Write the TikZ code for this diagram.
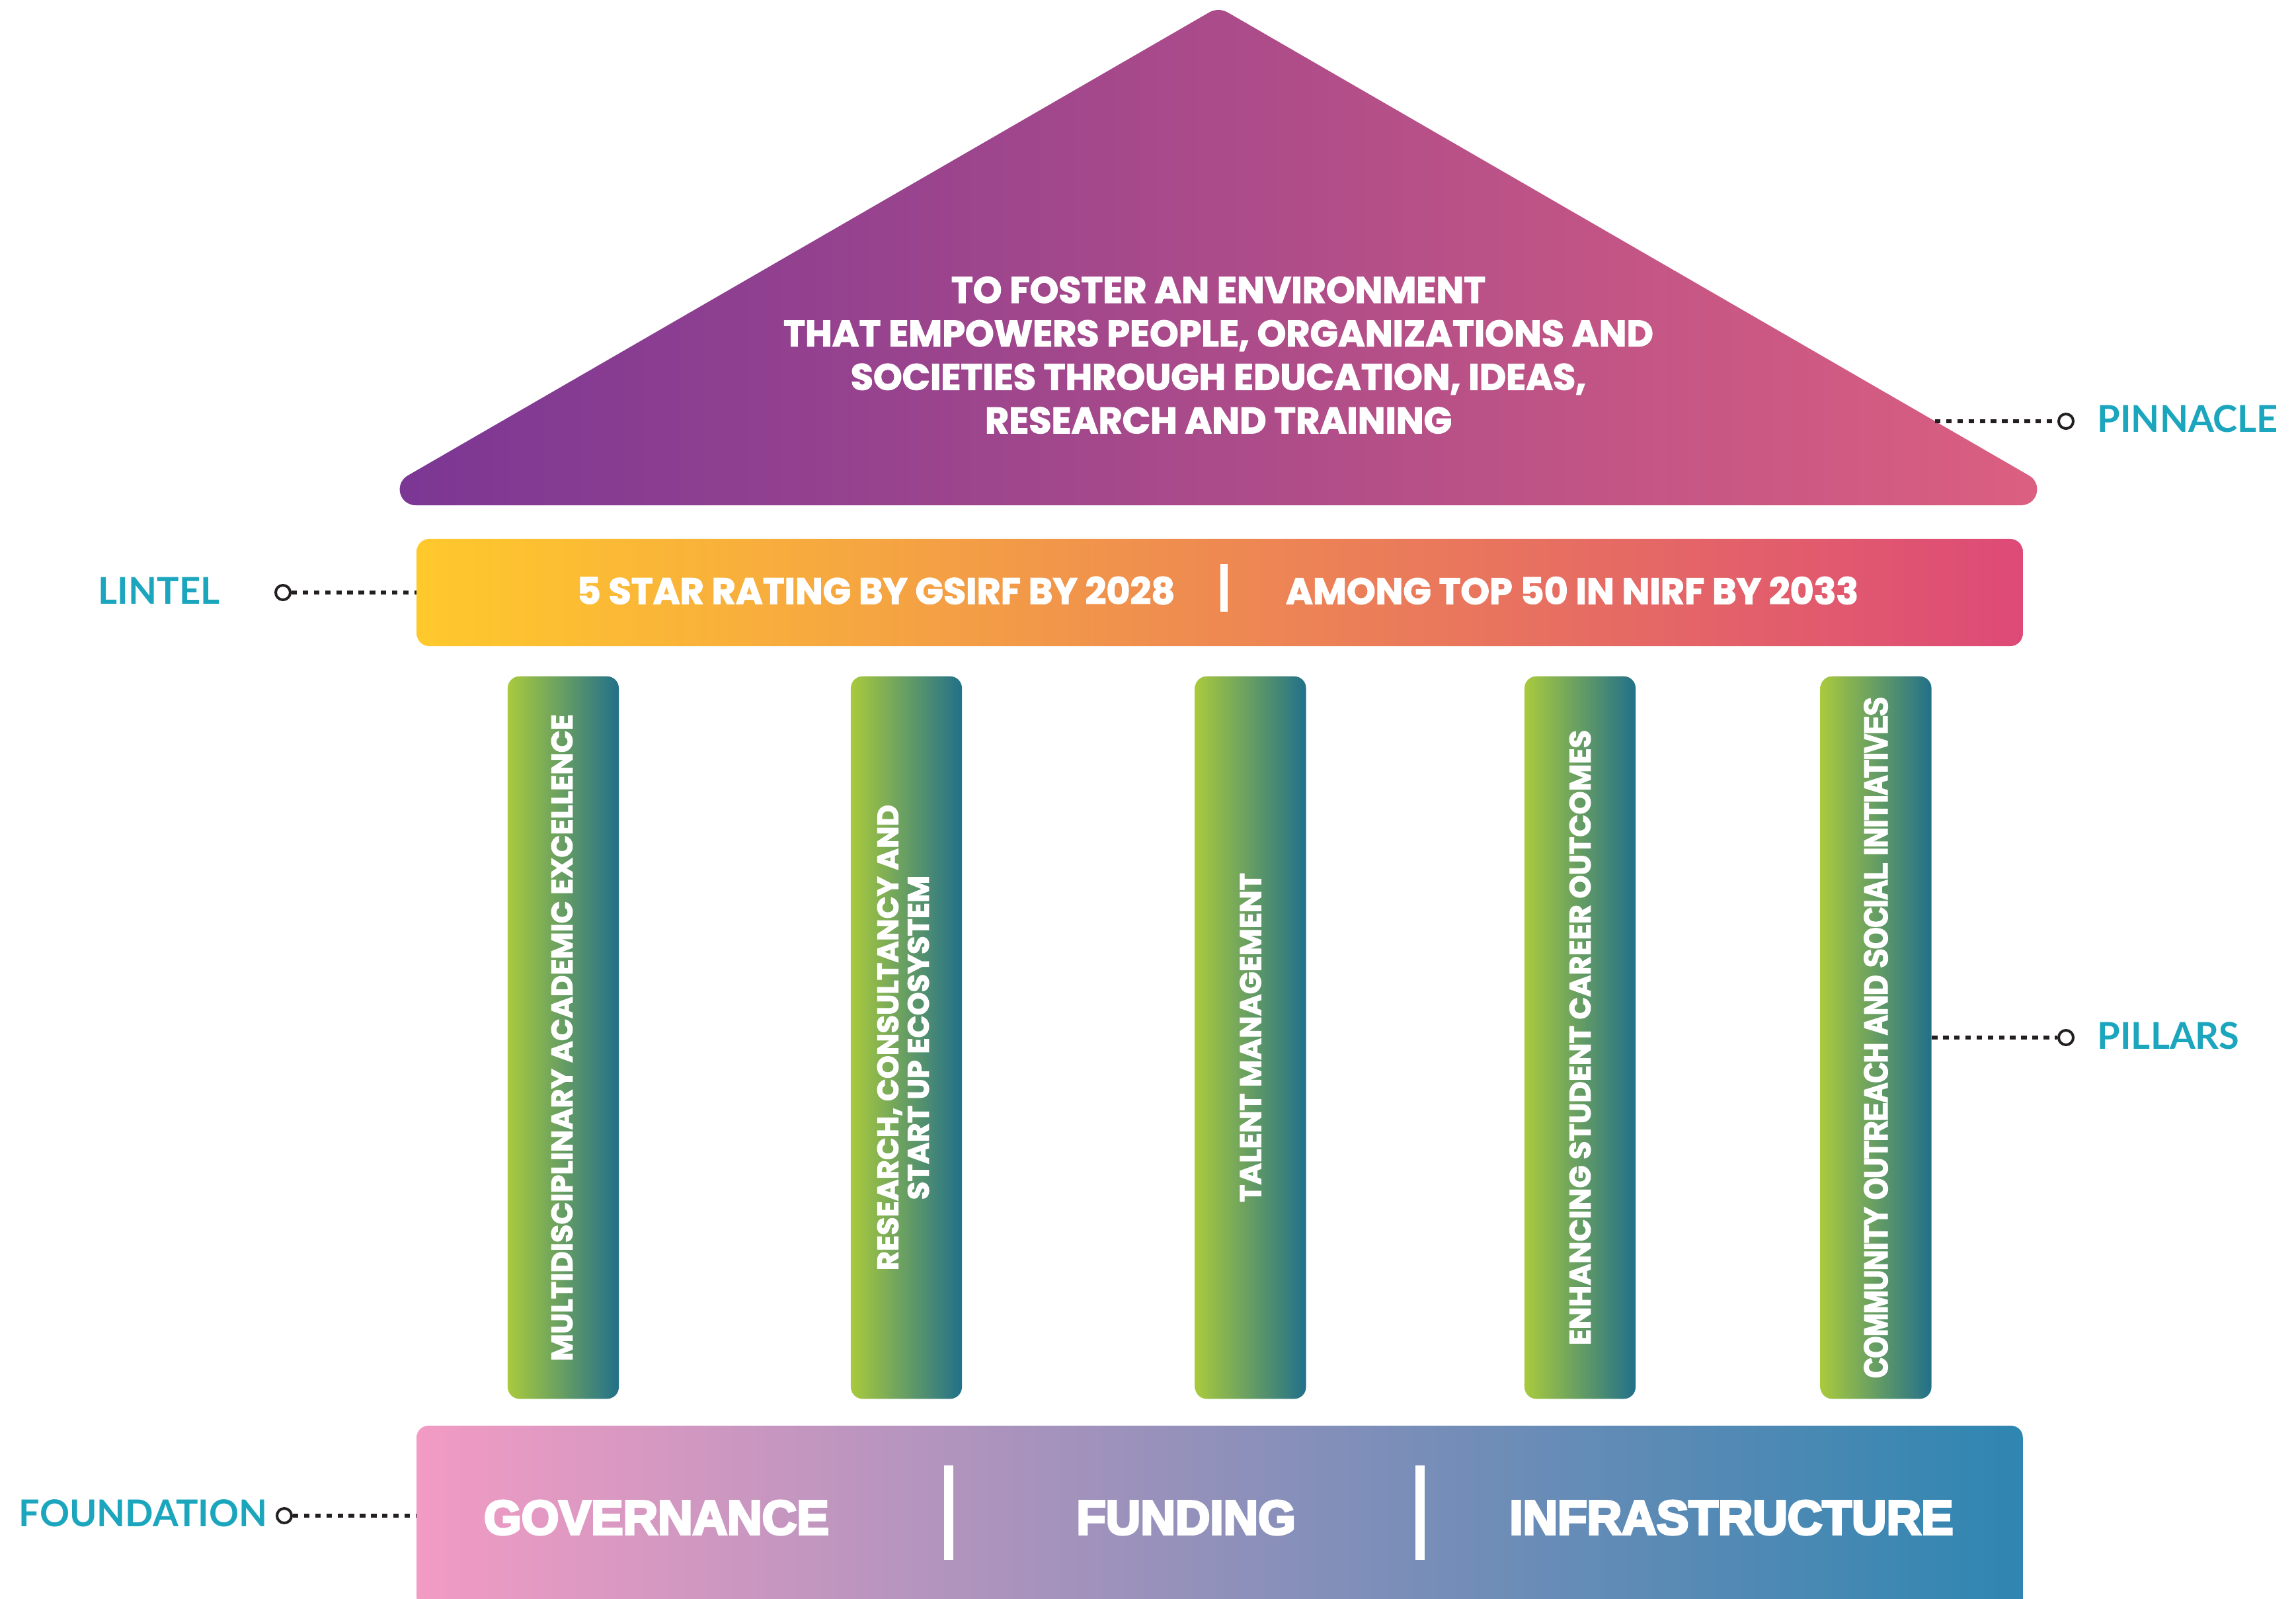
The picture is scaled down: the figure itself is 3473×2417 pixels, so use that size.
\documentclass[tikz,border=0pt]{standalone}
\usepackage{fontspec}
\newfontfamily\popheavy{Poppins}[UprightFont={* Bold}, FakeBold=2.2]
\newfontfamily\latofont{Lato}
\newfontfamily\arialheavy{Liberation Sans}[UprightFont={* Bold}, FakeBold=5]
\newfontfamily\narrowheavy{Liberation Sans}[UprightFont={* Bold}, FakeStretch=0.85, FakeBold=4.5]

\definecolor{roofL}{HTML}{7B3794}
\definecolor{roofM}{HTML}{AA4A8A}
\definecolor{roofR}{HTML}{DB5F80}
\definecolor{lintL}{HTML}{FFC92C}
\definecolor{lintM}{HTML}{EC8E6B}
\definecolor{lintR}{HTML}{DD4A77}
\definecolor{pilL}{HTML}{A9CA3D}
\definecolor{pilM}{HTML}{66967A}
\definecolor{pilR}{HTML}{22708A}
\definecolor{fndL}{HTML}{F29BC4}
\definecolor{fndM}{HTML}{A693BB}
\definecolor{fndR}{HTML}{2E86B1}
\definecolor{tagteal}{HTML}{1BA6BE}
\definecolor{leaderdark}{HTML}{231F20}

\begin{document}
\begin{tikzpicture}[x=0.01cm, y=-0.01cm,
  roofshade/.style={left color=roofL, middle color=roofM, right color=roofR, draw=none},
  lintelbox/.style={rectangle, rounded corners=5.4pt, inner sep=0, draw=none,
    minimum width=24.28cm, minimum height=1.62cm,
    left color=lintL, middle color=lintM, right color=lintR},
  pillarbox/.style={rectangle, rounded corners=5.1pt, inner sep=0, draw=none,
    minimum width=1.68cm, minimum height=10.92cm,
    left color=pilL, middle color=pilM, right color=pilR},
  foundbox/.style={rectangle, rounded corners=5pt, inner sep=0, draw=none,
    minimum width=24.28cm, minimum height=2.84cm,
    left color=fndL, middle color=fndM, right color=fndR},
  headtext/.style={text=white, inner sep=0, align=center,
    font=\popheavy\fontsize{15.8}{18.7}\selectfont},
  pillartext/.style={text=white, inner sep=0, align=center, rotate=90,
    font=\popheavy\fontsize{12.7}{13.1}\selectfont},
  narrowtext/.style={text=white, inner sep=0, rotate=90,
    font=\narrowheavy\fontsize{14}{15}\selectfont},
  foundtext/.style={text=white, inner sep=0,
    font=\arialheavy\fontsize{20.7}{24}\selectfont},
  divider/.style={rectangle, fill=white, draw=none, inner sep=0},
  tag/.style={text=tagteal, inner sep=0,
    font=\latofont\bfseries\fontsize{15.9}{18}\selectfont},
  tagdot/.style={circle, draw=leaderdark, fill=white, line width=1.14pt,
    minimum size=0.22cm, inner sep=0},
  leader/.style={draw=leaderdark, line width=1.56pt, dash pattern=on 2.4pt off 2.4pt}
]
\useasboundingbox (0,0) rectangle (3473,2417);

% roof: triangle with filleted corners
\shade[roofshade] (628.6,764) -- (3057.4,764)
  arc[start angle=90, end angle=-60, radius=24]
  -- (1857,18.75)
  arc[start angle=-60, end angle=-120, radius=28]
  -- (616.6,719.2)
  arc[start angle=-120, end angle=-270, radius=24] -- cycle;
\coordinate (pinnEdge) at (2927,637);
\node[headtext] (mission) at (1843,537)
  {TO FOSTER AN ENVIRONMENT\\
   THAT EMPOWERS PEOPLE, ORGANIZATIONS AND\\
   SOCIETIES THROUGH EDUCATION, IDEAS,\\
   RESEARCH AND TRAINING};

% lintel
\node[lintelbox] (lintel) at (1845,896) {};
\node[headtext] (goalA) at (1325,893) {5 STAR RATING BY GSIRF BY 2028};
\node[headtext] (goalB) at (2378,893) {AMONG TOP 50 IN NIRF BY 2033};
\node[divider, minimum width=0.11cm, minimum height=0.72cm] (lintelBar) at (1851,889) {};

% pillars
\node[pillarbox] (p1) at (852,1569) {};
\node[pillarbox] (p2) at (1371,1569) {};
\node[pillarbox] (p3) at (1891.5,1569) {};
\node[pillarbox] (p4) at (2390,1569) {};
\node[pillarbox] (p5) at (2837.5,1569) {};
\node[pillartext] (p1t) at (850,1569) {MULTIDISCIPLINARY ACADEMIC EXCELLENCE};
\node[pillartext] (p2t) at (1366,1569) {RESEARCH, CONSULTANCY AND\\START UP ECOSYSTEM};
\node[pillartext] (p3t) at (p3) {TALENT MANAGEMENT};
\node[pillartext] (p4t) at (p4) {ENHANCING STUDENT CAREER OUTCOMES};
\node[narrowtext] (p5t) at (p5) {COMMUNITY OUTREACH AND SOCIAL INITIATIVES};

% foundation
\node[foundbox] (found) at (1845,2298) {};
\node[foundtext] (gov) at (993,2295) {GOVERNANCE};
\node[foundtext] (fund) at (1794,2295) {FUNDING};
\node[foundtext] (infra) at (2619,2295) {INFRASTRUCTURE};
\node[divider, minimum width=0.14cm, minimum height=1.43cm] (foundBarA) at (1435,2287) {};
\node[divider, minimum width=0.14cm, minimum height=1.43cm] (foundBarB) at (2148,2287) {};

% side tags with leaders
\node[tag, anchor=west] (pinnTag) at (3172,633) {PINNACLE};
\node[tagdot] (pinnDot) at (3125,637) {};
\draw[leader] (pinnEdge) -- (pinnDot);

\node[tag, anchor=east] (lintelTag) at (333,893) {LINTEL};
\node[tagdot] (lintelDot) at (428,896) {};
\draw[leader] (lintelDot) -- (lintel.west);

\node[tag, anchor=west] (pillarsTag) at (3172,1566) {PILLARS};
\node[tagdot] (pillarsDot) at (3125,1569) {};
\draw[leader] (p5.east) -- (pillarsDot);

\node[tag, anchor=east] (foundTag) at (405,2288) {FOUNDATION};
\node[tagdot] (foundDot) at (430,2292) {};
\draw[leader] (foundDot) -- (foundDot -| found.west);
\end{tikzpicture}
\end{document}
